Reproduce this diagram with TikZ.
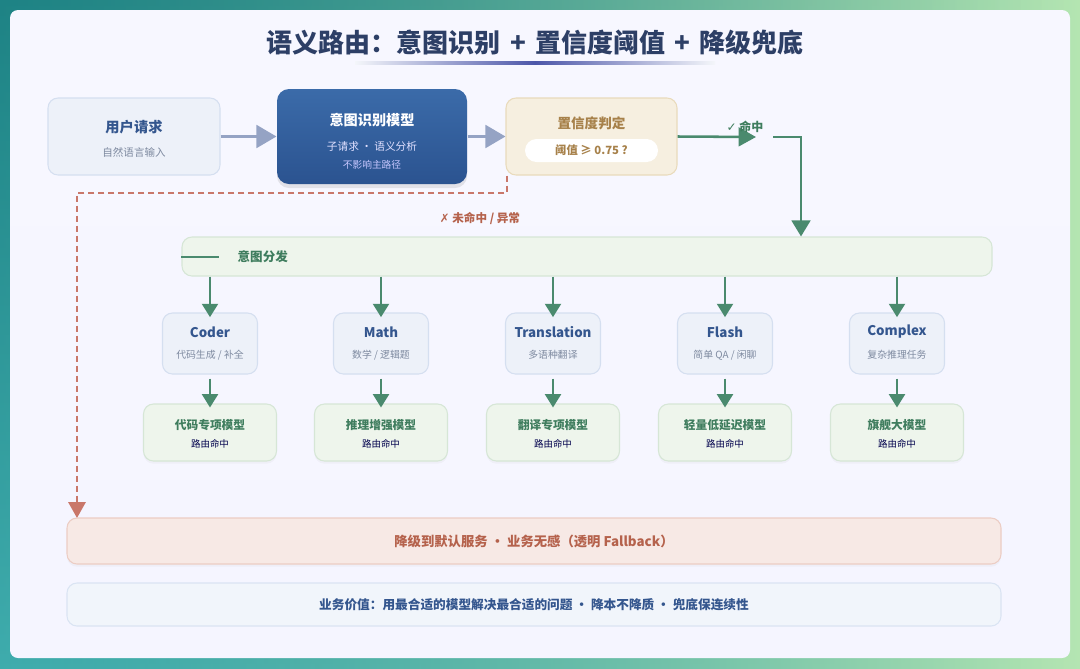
\documentclass[tikz,border=0pt]{standalone}
\usepackage{fontspec}
\setmainfont{Noto Sans CJK SC}
\newfontfamily\symfont{DejaVu Sans}
\usetikzlibrary{arrows.meta,shadows,fadings}
\definecolor{navy}{HTML}{2D3F66}
\definecolor{catnavy}{HTML}{34568E}
\definecolor{subgray}{HTML}{7E8AA0}
\definecolor{grn}{HTML}{4A8A6E}
\definecolor{grntxt}{HTML}{3F7D5E}
\definecolor{brn}{HTML}{A7814A}
\definecolor{redd}{HTML}{C9776A}
\definecolor{redtxt}{HTML}{B5624C}
\definecolor{arrgray}{HTML}{95A3C4}
\definecolor{cardbg}{HTML}{F4F6FA}
\definecolor{bluefill}{HTML}{EDF1F9}
\definecolor{blueline}{HTML}{D5DFF0}
\definecolor{grnfill}{HTML}{EEF5EC}
\definecolor{grnline}{HTML}{D6E6D6}
\definecolor{conffill}{HTML}{F6EFE0}
\definecolor{confline}{HTML}{E9DBBC}
\definecolor{fbfill}{HTML}{F7E9E5}
\definecolor{fbline}{HTML}{ECCDC4}
\definecolor{valfill}{HTML}{F1F5FB}
\definecolor{valline}{HTML}{DAE4F3}
\definecolor{intop}{HTML}{3B6BA9}
\definecolor{inbot}{HTML}{2B5390}
\definecolor{bgtl}{HTML}{1E8385}
\definecolor{bgtr}{HTML}{B5E6B2}
\definecolor{bgbl}{HTML}{55C8C8}
\tikzset{
  box/.style={rectangle, rounded corners=7.5pt, line width=0.8pt, inner sep=0pt},
  bluebox/.style={box, fill=bluefill, draw=blueline},
  catbox/.style={box, fill=bluefill, draw=blueline, minimum width=71.25pt, minimum height=45.75pt},
  modelbox/.style={box, fill=grnfill, draw=grnline, minimum width=99.75pt, minimum height=42.75pt,
     drop shadow={opacity=0.06, shadow xshift=0pt, shadow yshift=-2pt}},
  grayarrow/.style={draw=arrgray, line width=2.25pt, -{Triangle[length=15pt,width=17pt]}},
  grnarrow/.style={draw=grn, line width=1.6pt, -{Triangle[length=10pt,width=12pt]}},
  cattitle/.style={font=\bfseries\fontsize{10}{12}\selectfont, text=catnavy},
  catsub/.style={font=\fontsize{7.4}{9}\selectfont, text=subgray},
  modtitle/.style={font=\bfseries\fontsize{8.8}{10}\selectfont, text=grntxt},
  modsub/.style={font=\fontsize{7.1}{9}\selectfont, text=black!70!blue},
}
\begin{document}
\begin{tikzpicture}[x=0.75pt,y=-0.75pt]
\useasboundingbox (0,0) rectangle (1080,668);
% background gradient
\shade[left color=bgtl, right color=bgtr] (0,0) rectangle (1080,668);
\shade[top color=bgtl, bottom color=bgbl, path fading=east, opacity=0.6] (0,0) rectangle (1080,668);
% card
\shade[rounded corners=6pt, top color=white!97!blue, bottom color=blue!4!white] (10,10) rectangle (1070,658);
% title
\node (title) at (535,42) {\bfseries\fontsize{19.5}{22}\selectfont\color{navy}语义路由：意图识别\hspace{0.35em}+\hspace{0.35em}置信度阈值\hspace{0.35em}+\hspace{0.35em}降级兜底};
\shade[left color=cardbg, right color=cardbg, middle color=navy!70!blue!80!white] (355,61.8) rectangle (715,64.2);

% top row
\node[bluebox, minimum width=129pt, minimum height=57.75pt] (user) at (134,136.5) {};
\node[font=\bfseries\fontsize{10.7}{12}\selectfont, text=catnavy] at (134,127) {用户请求};
\node[font=\fontsize{7.9}{9}\selectfont, text=subgray] at (134,152) {自然语言输入};

\node[box, rounded corners=9pt, draw=none, top color=intop, bottom color=inbot,
  minimum width=142.5pt, minimum height=71.25pt, drop shadow={opacity=0.18, shadow xshift=0pt, shadow yshift=-3pt}] (intent) at (372,136.5) {};
\node[font=\bfseries\fontsize{10.6}{12}\selectfont, text=white] at (372,120) {意图识别模型};
\node[font=\fontsize{8}{9}\selectfont, text=white!88!blue] at (372,146) {子请求 · 语义分析};
\node[font=\fontsize{7.3}{9}\selectfont, text=white!78!blue] at (372,165) {不影响主路径};

\node[box, fill=conffill, draw=confline, minimum width=128.25pt, minimum height=57.75pt] (conf) at (591.5,136.5) {};
\node[font=\bfseries\fontsize{10.2}{12}\selectfont, text=brn] at (591.5,123) {置信度判定};
\node[rectangle, rounded corners=8.6pt, fill=white, minimum width=99.75pt, minimum height=17.25pt, inner sep=0pt,
  font=\bfseries\fontsize{8.5}{10}\selectfont, text=brn] (pill) at (591.5,150.5) {阈值 ≥ 0.75 ?};

\draw[grayarrow] (user.east) -- (intent.west);
\draw[grayarrow] (intent.east) -- (conf.west);

% hit path
\coordinate (hitend) at (756,137);
\coordinate (hitstart) at (773,137);
\draw[draw=grn, line width=1.9pt, -{Triangle[length=13pt,width=14pt]}] (conf.east) -- (hitend);
\node[font=\bfseries\fontsize{9}{10}\selectfont, text=grntxt] (hitlbl) at (745,127) {{\symfont ✓} 命中};

% dispatch bar
\node[box, fill=grnfill, draw=grnline, minimum width=607.5pt, minimum height=29.25pt] (disp) at (587,256.5) {};
\draw[grn, line width=1.5pt] (disp.west) -- ++(38,0) coordinate (dl);
\node[font=\bfseries\fontsize{9.4}{11}\selectfont, text=grntxt, anchor=west] at (233,257) {意图分发};
\draw[draw=grn, line width=1.9pt, -{Triangle[length=12pt,width=14pt]}] (hitstart) -| (disp.north -| 801,0);

% fail path
\draw[draw=redd, line width=1.6pt, dash pattern=on 4.5pt off 3pt, -{Triangle[length=12pt,width=13pt]}]
  (conf.south -| 507,0) -- (507,193) -- (77,193) coordinate (fc) -- (77,518);
\node[font=\bfseries\fontsize{8.7}{10}\selectfont, text=redtxt] (faillbl) at (480,218) {{\symfont ✗} 未命中 / 异常};

% categories and models
\foreach \x/\n/\t/\s/\m in {210/c1/Coder/{代码生成 / 补全}/代码专项模型,
                         381/c2/Math/{数学 / 逻辑题}/推理增强模型,
                         553/c3/Translation/多语种翻译/翻译专项模型,
                         725/c4/Flash/{简单 QA / 闲聊}/轻量低延迟模型,
                         897/c5/Complex/复杂推理任务/旗舰大模型} {
  \node[catbox] (\n) at (\x,343.5) {};
  \node[cattitle] at (\x,332) {\t};
  \node[catsub] at (\x,355) {\s};
  \node[modelbox] (m\n) at (\x,432.5) {};
  \node[modtitle] at (\x,425) {\m};
  \node[modsub] at (\x,444) {路由命中};
  \draw[grnarrow] (disp.south -| \n.north) -- ([yshift=-3.5pt]\n.north);
  \draw[grnarrow] ([yshift=-3pt]\n.south) -- ([yshift=-3pt]m\n.north);
}

% fallback
\node[box, fill=fbfill, draw=fbline, minimum width=700.5pt, minimum height=34.5pt,
  drop shadow={opacity=0.06, shadow xshift=0pt, shadow yshift=-2pt},
  font=\bfseries\fontsize{10}{12}\selectfont, text=redtxt] (fallback) at (534,541) {降级到默认服务 · 业务无感（透明 Fallback）};
\node[box, fill=valfill, draw=valline, minimum width=700.5pt, minimum height=32.25pt,
  font=\bfseries\fontsize{9.5}{11}\selectfont, text=catnavy] (value) at (534,604.5) {业务价值：用最合适的模型解决最合适的问题 · 降本不降质 · 兜底保连续性};
\end{tikzpicture}
\end{document}
